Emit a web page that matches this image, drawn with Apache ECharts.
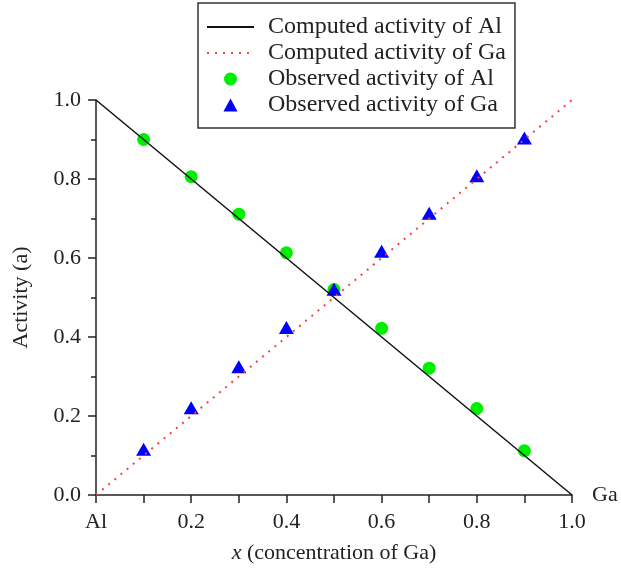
<!DOCTYPE html>
<html>
<head>
<meta charset="utf-8">
<script src="https://cdn.jsdelivr.net/npm/echarts@6/dist/echarts.min.js"></script>
<style>
html,body{margin:0;padding:0;background:#fff;}
#chart{width:621px;height:571px;}
</style>
</head>
<body>
<div id="chart"></div>
<script>
// Data
const xObs = [0.1, 0.2, 0.3, 0.4, 0.5, 0.6, 0.7, 0.8, 0.9];
const alObs = [0.900, 0.806, 0.711, 0.613, 0.520, 0.422, 0.321, 0.219, 0.112];
const gaObs = [0.116, 0.221, 0.325, 0.424, 0.521, 0.617, 0.713, 0.808, 0.904];
const xComp = [0, 1];
const alComp = [1, 0];
const gaComp = [0, 1];
const seriesNames = ['Computed activity of Al', 'Computed activity of Ga', 'Observed activity of Al', 'Observed activity of Ga'];
const xTickLabels = ['Al', '0.2', '0.4', '0.6', '0.8', '1.0'];

const FONT = '"Liberation Serif", "Times New Roman", serif';
const zip = (xs, ys) => xs.map((x, i) => [x, ys[i]]);

const chart = echarts.init(document.getElementById('chart'));
chart.setOption({
  animation: false,
  backgroundColor: '#fff',
  textStyle: { fontFamily: FONT },
  grid: { left: 96, right: 49, top: 100, bottom: 76, containLabel: false },
  legend: {
    data: [
      { name: seriesNames[0], itemStyle: { opacity: 0 } },
      { name: seriesNames[1], itemStyle: { opacity: 0 } },
      { name: seriesNames[2] },
      { name: seriesNames[3], icon: 'path://M0,12L6.5,0L13,12Z' }
    ],
    orient: 'vertical',
    left: 198,
    top: 3,
    padding: [12, 9, 11, 8],
    itemWidth: 47,
    itemHeight: 13,
    itemGap: 2,
    symbolKeepAspect: true,
    borderColor: '#333',
    borderWidth: 1.5,
    textStyle: { fontFamily: FONT, fontSize: 24, color: '#222', padding: [0, 0, 0, 9] }
  },
  xAxis: [{
    type: 'value', min: 0, max: 1, interval: 0.2,
    name: 'Ga', nameLocation: 'end', nameGap: 20,
    nameTextStyle: { fontFamily: FONT, fontSize: 22, color: '#222', verticalAlign: 'middle', padding: [6, 0, 0, 0] },
    axisLine: { show: true, onZero: false, lineStyle: { color: '#222', width: 1.5 } },
    axisTick: { show: true, length: 8, lineStyle: { color: '#222', width: 1.5 } },
    minorTick: { show: true, splitNumber: 2, length: 8, lineStyle: { color: '#222', width: 1.5 } },
    splitLine: { show: false },
    axisLabel: {
      fontFamily: FONT, fontSize: 22, color: '#222', margin: 16,
      formatter: (v) => xTickLabels[Math.round(v / 0.2)]
    }
  }, {
    type: 'value', min: 0, max: 1, position: 'bottom',
    name: '{i|x} (concentration of Ga)', nameLocation: 'middle', nameGap: 47,
    nameTextStyle: {
      fontFamily: FONT, fontSize: 22, color: '#222',
      rich: { i: { fontFamily: FONT, fontSize: 22, fontStyle: 'italic', color: '#222' } }
    },
    axisLine: { show: false }, axisTick: { show: false }, axisLabel: { show: false }, splitLine: { show: false }
  }],
  yAxis: {
    type: 'value', min: 0, max: 1, interval: 0.2,
    name: 'Activity (a)', nameLocation: 'middle', nameGap: 64, nameRotate: 90,
    nameTextStyle: { fontFamily: FONT, fontSize: 22, color: '#222' },
    axisLine: { show: true, onZero: false, lineStyle: { color: '#222', width: 1.5 } },
    axisTick: { show: true, length: 8, lineStyle: { color: '#222', width: 1.5 } },
    minorTick: { show: true, splitNumber: 2, length: 5, lineStyle: { color: '#222', width: 1.5 } },
    splitLine: { show: false },
    axisLabel: { fontFamily: FONT, fontSize: 22, color: '#222', margin: 15, formatter: (v) => v.toFixed(1) }
  },
  series: [{
    name: seriesNames[2], type: 'scatter', data: zip(xObs, alObs),
    symbol: 'circle', symbolSize: 13, itemStyle: { color: '#00ee00', opacity: 1 }, z: 2
  }, {
    name: seriesNames[3], type: 'scatter', data: zip(xObs, gaObs),
    symbol: 'triangle', symbolSize: [15, 13], itemStyle: { color: '#0000ff', opacity: 1 }, z: 3
  }, {
    name: seriesNames[0], type: 'line', data: zip(xComp, alComp),
    symbol: 'none', lineStyle: { color: '#111', width: 1.5, type: 'solid' }, itemStyle: { color: '#111' }, z: 4
  }, {
    name: seriesNames[1], type: 'line', data: zip(xComp, gaComp),
    symbol: 'none', lineStyle: { color: '#ff3b3b', width: 2, type: [2, 6] }, itemStyle: { color: '#ff3b3b' }, z: 5
  }]
});
</script>
</body>
</html>
